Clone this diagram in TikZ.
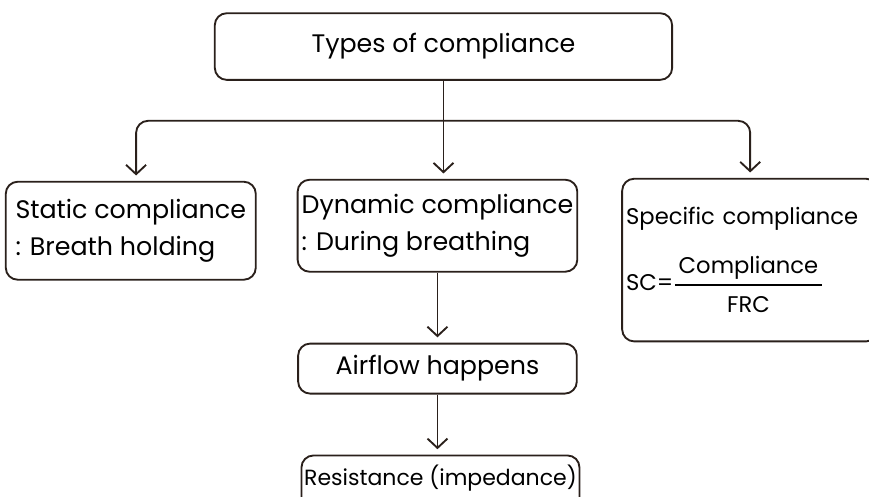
\documentclass[tikz,border=0pt]{standalone}
\usepackage{amsmath}
\usepackage{fontspec}
\setmainfont{Poppins}
\usetikzlibrary{arrows.meta, positioning}
\definecolor{ink}{HTML}{2A201B}

\begin{document}
\begin{tikzpicture}[
    node distance = 73.5pt and 30pt,
    BX/.style args = {#1/#2}{
                    draw=ink,% line color
                    rounded corners=9pt, line width=1.4pt,
                    minimum width=#1, minimum height=#2, inner sep=3pt,
                    font=\fontsize{19}{28}\selectfont},
    BL/.style = {BX=#1, align=left},
    line/.style = {draw=ink, line width=1.4pt,
                    -{Straight Barb[length=7pt,width=15pt]},
                    shorten >=4pt}]
%---
\useasboundingbox (0,0) rectangle (651.75pt,-372.75pt);
\clip (0,0) rectangle (651.75pt,-372.75pt);
% top
\node (types) [BX=343pt/50pt] at (332.6pt,-34.9pt) {Types of compliance};
% middle row
\node (dynamic) [BL=209pt/69pt, below=of types, xshift=-4.5pt]
                {Dynamic compliance\\: During breathing};
\node (static) [BL=187.5pt/73.5pt, left=30pt of dynamic.north west,
                anchor=north east, yshift=-1.5pt]
                {Static compliance\\: Breath holding};
\node (specific) [BL=192pt/122pt, right=32.25pt of dynamic.north east,
                anchor=north west, yshift=0.75pt, text width=186pt,
                font=\fontsize{17}{24}\selectfont]
                {Specific compliance\\[18pt]
                 SC=$\genfrac{}{}{1.1pt}{0}
                    {\mbox{\,Compliance\,\rule[-5pt]{0pt}{5pt}}}
                    {\mbox{\rule{0pt}{17pt}FRC}}$};
% bottom
\node (airflow) [BX=209pt/37.5pt, below=52.5pt of dynamic] {Airflow happens};
\node (resist) [BX=208.5pt/60pt, below=45pt of airflow, xshift=2.25pt,
                inner xsep=1pt, text depth=31pt,
                font=\fontsize{16.5}{20}\selectfont]
                {Resistance (impedance)};
% lines
\coordinate (bus) at ([yshift=-30pt]types.south);
\draw[line] (types.south) -- (types.south |- dynamic.north);
\draw[line, rounded corners=9pt] (bus) -| ([xshift=4pt]static.north);
\draw[line, rounded corners=9pt] (bus) -| (specific.north);
\draw[line] (dynamic) -- (airflow);
\draw[line] (airflow.south) -- (airflow.south |- resist.north);
\end{tikzpicture}
\end{document}
